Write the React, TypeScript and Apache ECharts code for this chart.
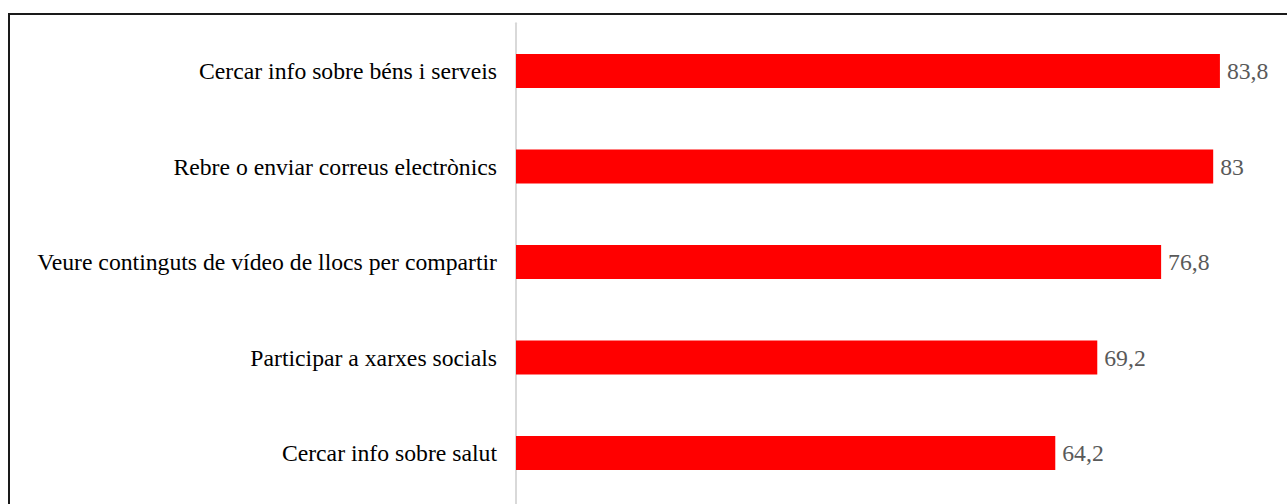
import React, { useEffect, useRef } from "react";
import * as echarts from "echarts";

const categories = [
  "Cercar info sobre béns i serveis",
  "Rebre o enviar correus electrònics",
  "Veure continguts de vídeo de llocs per compartir",
  "Participar a xarxes socials",
  "Cercar info sobre salut",
];
const values = [83.8, 83, 76.8, 69.2, 64.2];

export default function App() {
  const ref = useRef<HTMLDivElement>(null);
  useEffect(() => {
    if (!ref.current) return;
    const chart = echarts.init(ref.current, null, { renderer: "svg" });
    chart.setOption({
      animation: false,
      backgroundColor: "#ffffff",
      grid: { left: 516, top: 23.25, width: 756, height: 477.5, containLabel: false },
      xAxis: {
        type: "value",
        min: 0,
        max: 90,
        show: false,
        splitLine: { show: false },
      },
      yAxis: {
        type: "category",
        inverse: true,
        data: categories,
        axisLine: { show: true, lineStyle: { color: "#d9d9d9", width: 2 } },
        axisTick: { show: false },
        axisLabel: {
          color: "#000000",
          fontFamily: "Liberation Serif",
          fontSize: 23.7,
          margin: 19,
        },
      },
      series: [
        {
          type: "bar",
          data: values,
          barWidth: 34,
          itemStyle: { color: "#ff0000" },
          label: {
            show: true,
            position: "right",
            distance: 7,
            color: "#595959",
            fontFamily: "Liberation Serif",
            fontSize: 23.7,
            formatter: (p: any) => String(p.value).replace(".", ","),
          },
        },
      ],
      graphic: [
        {
          type: "line",
          shape: { x1: 516, y1: 500, x2: 516, y2: 510 },
          style: { stroke: "#d9d9d9", lineWidth: 2 },
        },
        {
          type: "rect",
          shape: { x: 9, y: 14, width: 1400, height: 600 },
          style: { fill: "none", stroke: "#1a1a1a", lineWidth: 2 },
          z: 100,
        },
      ],
    });
    return () => chart.dispose();
  }, []);
  return (
    <div
      ref={ref}
      style={{ position: "fixed", left: 0, top: 0, width: 1287, height: 504 }}
    />
  );
}
